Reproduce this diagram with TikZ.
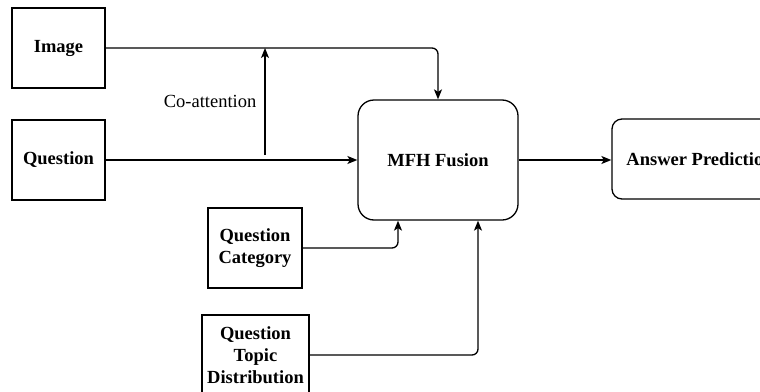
\documentclass[tikz,border=0pt]{standalone}
\usepackage{fontspec}
\setmainfont{Liberation Serif}
\usetikzlibrary{arrows.meta}

\begin{document}
\begin{tikzpicture}[x=1pt, y=-1pt, line width=1.3pt,
  box/.style={draw, align=center, inner sep=2pt, font=\fontsize{18.5}{22}\selectfont\bfseries},
  arr/.style={-{Stealth[length=10pt,width=8pt,inset=2.5pt]}, rounded corners=6pt}]
\clip (0,0) rectangle (760,391);

%Draw Input Boxes
\node[box, minimum width=93pt, minimum height=80pt] (img) at (58.5,48) {Image};
\node[box, minimum width=93pt, minimum height=80pt] (qst) at (58.5,160) {Question};
\node[box, minimum width=94pt, minimum height=80pt] (qcat) at (255,248) {Question\\Category};
\node[box, minimum width=107pt, minimum height=80pt] (qtop) at (255.5,355) {Question\\Topic\\Distribution};

%Draw Fusion and Output Boxes
\node[box, rounded corners=16pt, minimum width=160pt, minimum height=120pt] (mfh) at (438,160) {MFH Fusion};
\node[box, rounded corners=10pt, minimum width=176pt, minimum height=80pt] (ans) at (700,159) {Answer Prediction};

%Draw Connectors
\draw[arr] (img.east) -| (mfh.north);
\draw[arr] (qst.east) -- (mfh.west);
\draw[arr] (mfh.east) -- (mfh.east -| ans.west);
\draw[arr] (qcat.east) -| ([xshift=-40pt]mfh.south);
\draw[arr] (qtop.east) -| ([xshift=40pt]mfh.south);

%Draw Co-attention Arrow
\coordinate (coatt) at (265,155);
\draw[arr] (coatt) -- (coatt |- img.east)
  node[midway, left, inner sep=8pt, font=\fontsize{18.5}{22}\selectfont] (lbl) {Co-attention};

\end{tikzpicture}
\end{document}
